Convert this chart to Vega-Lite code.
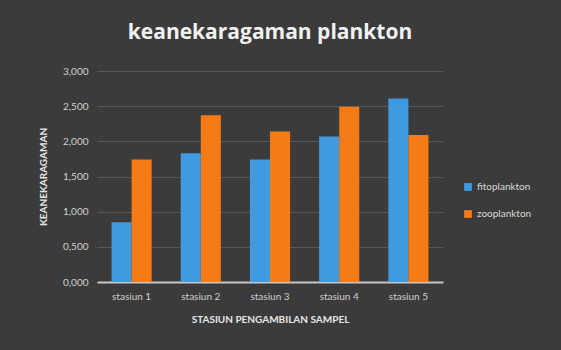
{
  "$schema": "https://vega.github.io/schema/vega-lite/v6.json",
  "autosize": "none",
  "width": 346,
  "height": 211,
  "padding": {"left": 97, "top": 71, "right": 118, "bottom": 68},
  "background": "#3b3b3b",
  "title": {
    "text": "keanekaragaman plankton",
    "anchor": "middle",
    "frame": "group",
    "font": "Open Sans",
    "fontSize": 21,
    "fontWeight": "bold",
    "color": "#f2f2f2",
    "offset": 23
  },
  "data": {
    "values": [
      {"stasiun": "stasiun 1", "jenis": "fitoplankton", "nilai": 0.85},
      {"stasiun": "stasiun 1", "jenis": "zooplankton", "nilai": 1.74},
      {"stasiun": "stasiun 2", "jenis": "fitoplankton", "nilai": 1.83},
      {"stasiun": "stasiun 2", "jenis": "zooplankton", "nilai": 2.37},
      {"stasiun": "stasiun 3", "jenis": "fitoplankton", "nilai": 1.74},
      {"stasiun": "stasiun 3", "jenis": "zooplankton", "nilai": 2.14},
      {"stasiun": "stasiun 4", "jenis": "fitoplankton", "nilai": 2.07},
      {"stasiun": "stasiun 4", "jenis": "zooplankton", "nilai": 2.49},
      {"stasiun": "stasiun 5", "jenis": "fitoplankton", "nilai": 2.61},
      {"stasiun": "stasiun 5", "jenis": "zooplankton", "nilai": 2.09}
    ]
  },
  "mark": {"type": "bar"},
  "encoding": {
    "x": {
      "field": "stasiun",
      "type": "nominal",
      "scale": {"paddingInner": 0.42, "paddingOuter": 0.21},
      "axis": {
        "title": "STASIUN PENGAMBILAN SAMPEL",
        "labelAngle": 0,
        "labelPadding": 9,
        "titlePadding": 13,
        "domainColor": "#c8c8c8",
        "domainWidth": 2,
        "ticks": false
      }
    },
    "xOffset": {"field": "jenis", "type": "nominal"},
    "y": {
      "field": "nilai",
      "type": "quantitative",
      "scale": {"domain": [0, 3], "nice": false},
      "axis": {
        "title": "KEANEKARAGAMAN",
        "values": [0, 0.5, 1, 1.5, 2, 2.5, 3],
        "labelExpr": "replace(format(datum.value, '.3f'), '.', ',')",
        "domain": false,
        "ticks": false,
        "labelPadding": 9,
        "titlePadding": 14,
        "gridColor": "#575757"
      }
    },
    "color": {
      "field": "jenis",
      "type": "nominal",
      "scale": {"range": ["#3f9ae0", "#f47b16"]},
      "legend": {
        "title": null,
        "orient": "none",
        "legendX": 366,
        "legendY": 111,
        "symbolType": "square",
        "symbolSize": 60,
        "rowPadding": 17,
        "labelFontSize": 10,
        "labelColor": "#d9d9d9",
        "labelFont": "Lato"
      }
    }
  },
  "config": {
    "view": {"stroke": null},
    "axis": {
      "labelColor": "#d0d0d0",
      "labelFont": "Lato",
      "labelFontSize": 10,
      "titleColor": "#e6e6e6",
      "titleFont": "Lato",
      "titleFontSize": 10,
      "titleFontWeight": "bold"
    }
  }
}
